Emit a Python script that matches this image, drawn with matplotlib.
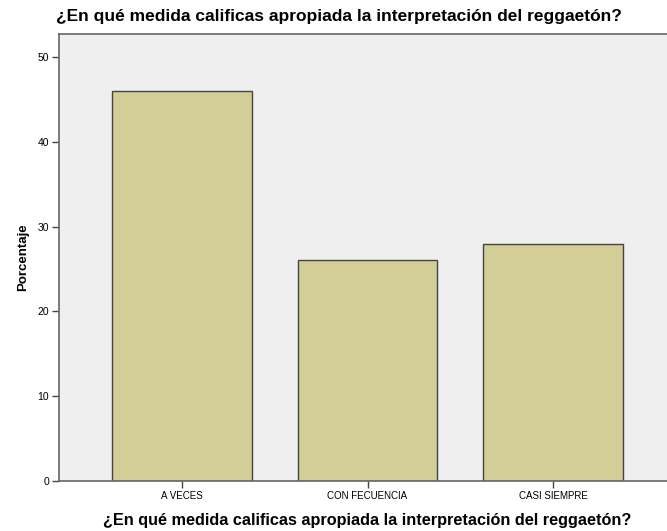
import numpy as np
import matplotlib.pyplot as plt

# respuestas y porcentajes
categorias = ["A VECES", "CON FECUENCIA", "CASI SIEMPRE"]
porcentajes = [46, 26, 28]
yticks = [0, 10, 20, 30, 40, 50]
titulo = "¿En qué medida calificas apropiada la interpretación del reggaetón?"

plt.rcParams['font.family'] = ['Liberation Sans', 'DejaVu Sans']

fig = plt.figure(figsize=(6.67, 5.31), dpi=100)
ax = fig.add_axes([59/667, 1 - 481/531, 617/667, 447/531])
ax.set_facecolor("#efefef")

x = np.arange(len(categorias))
ax.bar(x, porcentajes, width=0.75, color="#d3ce97", edgecolor="#444444", linewidth=1.0, zorder=2)

ax.set_xlim(-0.663, 2.663)
ax.set_ylim(0, 52.7)
ax.set_xticks(x)
ax.set_xticklabels(categorias, fontsize=7)
ax.set_yticks(yticks)
ax.set_yticklabels([str(v) for v in yticks], fontsize=7.5)
ax.tick_params(axis='both', length=5, width=1, color="#444444", pad=2)

for s in ax.spines.values():
    s.set_color("#666666")
    s.set_linewidth(1.2)

ax.set_ylabel("Porcentaje", fontsize=9.5, fontweight="bold", labelpad=6)
fig.text(339/667, 1 - 17/531, titulo, ha="center", va="center", fontsize=12.5, fontweight="bold")
fig.text(367/667, 1 - 520/531, titulo, ha="center", va="center", fontsize=11.7, fontweight="bold")

fig.savefig("out.png", dpi=100)
